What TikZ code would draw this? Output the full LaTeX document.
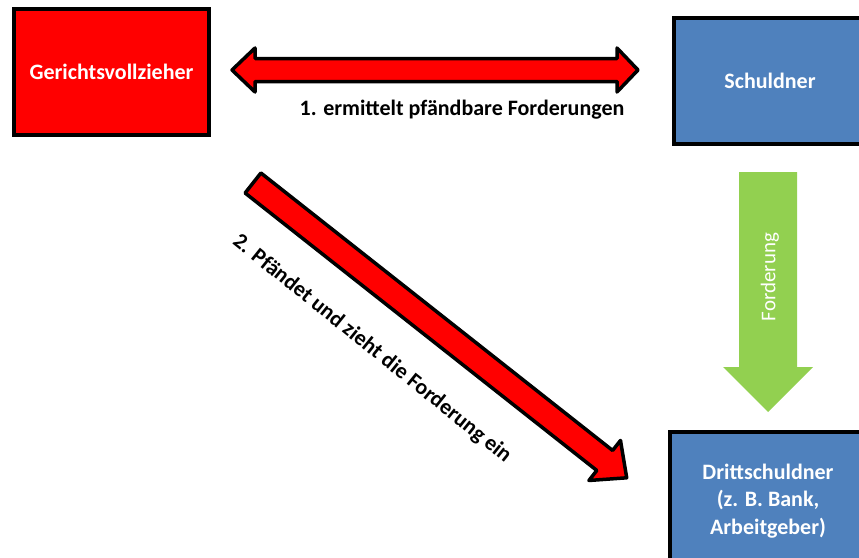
\documentclass[tikz,border=0pt]{standalone}
\usepackage{fontspec}
\setmainfont{Carlito}
\usetikzlibrary{positioning, calc}
\definecolor{gvred}{HTML}{FF0000}
\definecolor{sblue}{HTML}{4F81BD}
\definecolor{fgreen}{HTML}{92D050}

\begin{document}
\begin{tikzpicture}[x=1pt, y=-1pt, font=\fontsize{21}{27}\selectfont]
    % Define the styles
    \tikzstyle{box} = [rectangle, draw=black, line width=4pt, text=white, font=\fontsize{22}{27.5}\selectfont\bfseries, align=center, minimum height=126pt, inner sep=0pt]
    \tikzstyle{redarrow} = [fill=gvred, draw=black, line width=3.5pt, line join=round]
    \tikzstyle{label} = [font=\fontsize{22}{27}\selectfont\bfseries, inner sep=0pt]

    \useasboundingbox (0,0) rectangle (859,557);
    \clip (0,0) rectangle (859,557);

    % Place the nodes
    \node [box, fill=gvred, minimum width=195pt] (gv) at (111.5,72) {Gerichtsvollzieher};
    \node [box, fill=sblue, minimum width=192pt] (schuldner) at (770,81) {Schuldner};
    \node [box, fill=sblue, minimum width=196pt, minimum height=138pt] (dritt) at (768,501) {Drittschuldner\\(z. B. Bank,\\Arbeitgeber)};

    % Arrow ends
    \coordinate (ermL) at (232,70);
    \coordinate (ermR) at (638,70);
    \coordinate (fordTop) at (768,172);
    \coordinate (fordTip) at (768,412);
    \coordinate (pfTail) at (253,183);
    \coordinate (pfTip) at (627,478);

    % 1. double arrow between Gerichtsvollzieher and Schuldner
    \draw [redarrow] (ermL) -- ++(23,-22) -- ++(0,10.5) -- ($(ermR)+(-21,-11.5)$) -- ++(0,-10.5) -- (ermR)
        -- ++(-21,22) -- ++(0,-10.5) -- ($(ermL)+(23,11.5)$) -- ++(0,10.5) -- cycle;
    \node [label] (ermittelt) at (462,110) {1. ermittelt pfändbare Forderungen};

    % Forderung arrow from Schuldner to Drittschuldner
    \fill [fgreen] ($(fordTop)+(-29,0)$) -- ($(fordTop)+(29,0)$) -- ($(fordTip)+(29,-45)$) -- ($(fordTip)+(45,-45)$)
        -- (fordTip) -- ($(fordTip)+(-45,-45)$) -- ($(fordTip)+(-29,-45)$) -- cycle;
    \node [rotate=90, text=white, inner sep=0pt] (forderung) at (770,277) {Forderung};

    % 2. diagonal arrow from Gerichtsvollzieher to Drittschuldner
    \begin{scope}[shift={(pfTail)}, rotate=-38.27]
        \draw [redarrow] (0,-12.75) -- (448,-12.75) -- (448,-25.5) -- (476,0) -- (448,25.5) -- (448,12.75) -- (0,12.75) -- cycle;
    \end{scope}
    \node [label, rotate=-38.8] (pfaendet) at (372,349) {2. Pfändet und zieht die Forderung ein};
\end{tikzpicture}
\end{document}
